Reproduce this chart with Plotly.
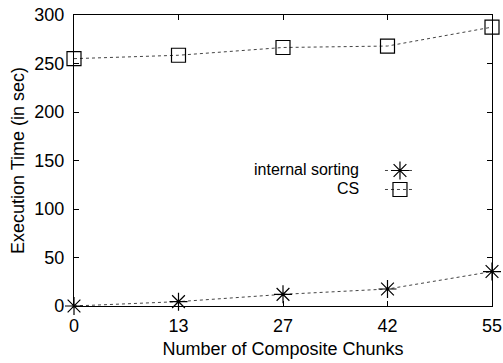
import plotly.graph_objects as go

chunks = ["0", "13", "27", "42", "55"]
internal_sorting = [0, 4.5, 12, 17.5, 35.5]
cs = [255, 258.5, 266.5, 268, 287.5]
series_names = ["internal sorting", "CS"]

xpos = list(range(len(chunks)))
FONT = "Liberation Sans, Arial, Helvetica, sans-serif"
FS = 18

fig = go.Figure()
fig.add_trace(go.Scatter(
    x=xpos, y=internal_sorting, name=series_names[0], mode="lines+markers",
    line=dict(color="#444", width=1, dash="dot"),
    marker=dict(symbol="asterisk-open", size=15, color="black", line=dict(color="black", width=1.2)),
    cliponaxis=False,
))
fig.add_trace(go.Scatter(
    x=xpos, y=cs, name=series_names[1], mode="lines+markers",
    line=dict(color="#444", width=1, dash="dot"),
    marker=dict(symbol="square-open", size=14, color="black", line=dict(color="black", width=1.2)),
    cliponaxis=False,
))

axis_common = dict(
    showline=True, linecolor="black", linewidth=1.2, mirror="ticks",
    ticks="inside", ticklen=5, tickcolor="black", showgrid=False, zeroline=False,
    automargin=False,
    tickfont=dict(family=FONT, size=FS, color="black"),
)
fig.update_xaxes(range=[0, 4], tickvals=xpos, ticktext=chunks, ticklabelstandoff=3,
                 title=dict(text="Number of Composite Chunks", font=dict(family=FONT, size=FS, color="black"), standoff=7),
                 **axis_common)
fig.update_yaxes(range=[0, 300], dtick=50, ticklabelstandoff=5,
                 title=dict(text="Execution Time (in sec)", font=dict(family=FONT, size=FS, color="black"), standoff=4),
                 **axis_common)

# legend: keys from plotly legend, labels right-aligned to the left of the keys (gnuplot style)
leg_y = [0.469, 0.404]
for name, yy in zip(series_names, leg_y):
    fig.add_annotation(x=0.684, y=yy, xref="paper", yref="paper", xanchor="right", yanchor="middle",
                       text=name, showarrow=False, borderpad=0,
                       font=dict(family=FONT, size=16, color="black"))

fig.update_layout(
    width=503, height=363,
    margin=dict(l=74, r=11, t=15, b=57),
    plot_bgcolor="white", paper_bgcolor="white",
    showlegend=True,
    legend=dict(x=0.732, y=0.433, xanchor="left", yanchor="middle",
                font=dict(family=FONT, size=2, color="rgba(0,0,0,0)"),
                bgcolor="rgba(0,0,0,0)", tracegroupgap=0),
)
fig.write_html("out.html")
